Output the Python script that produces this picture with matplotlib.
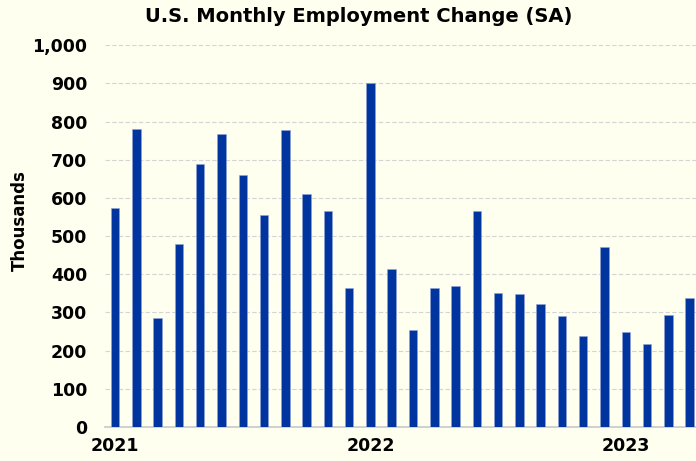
import matplotlib.pyplot as plt
import numpy as np

# monthly change in nonfarm payrolls, thousands (Jan 2021 - Apr 2023)
values = [573, 781, 284, 480, 690, 767, 660, 555, 779, 611, 566, 363,
          901, 413, 253, 363, 369, 566, 350, 349, 322, 290, 238, 470,
          248, 216, 293, 337]
year_labels = ["2021", "2022", "2023"]
year_pos = [0, 12, 24]
yticks = [0, 100, 200, 300, 400, 500, 600, 700, 800, 900, 1000]

bg = "#fffff0"
fig = plt.figure(figsize=(6.96, 4.61), dpi=100, facecolor=bg)
ax = fig.add_axes([0.151, 0.074, 0.849, 0.828], facecolor=bg)

x = np.arange(len(values))
ax.bar(x, values, width=0.4, color="#0035a0", edgecolor="#8fa3d6", linewidth=0.4, zorder=3)

ax.set_xlim(-0.47, 27.3)
ax.set_ylim(0, 1000)
ax.set_yticks(yticks)
ax.set_yticklabels([f"{v:,}" for v in yticks], fontsize=12.5, fontweight="bold")
ax.set_xticks(year_pos)
ax.set_xticklabels(year_labels, fontsize=12.5, fontweight="bold")
ax.tick_params(axis="y", length=0, pad=13)
ax.tick_params(axis="x", length=0, pad=7)

ax.grid(axis="y", color="#d4d4d4", linestyle=(0, (4, 2)), linewidth=0.8, zorder=0)
for s in ["top", "right", "left"]:
    ax.spines[s].set_visible(False)
ax.spines["bottom"].set_color("#c8c8c8")
ax.spines["bottom"].set_linewidth(1.2)

fig.text(20 / 696, 1 - 221 / 461, "Thousands", rotation=90, ha="center", va="center",
         fontsize=12, fontweight="bold")
fig.text(0.515, 0.965, "U.S. Monthly Employment Change (SA)", ha="center", va="center",
         fontsize=14, fontweight="bold")

fig.savefig("out.png", dpi=100, facecolor=bg)
